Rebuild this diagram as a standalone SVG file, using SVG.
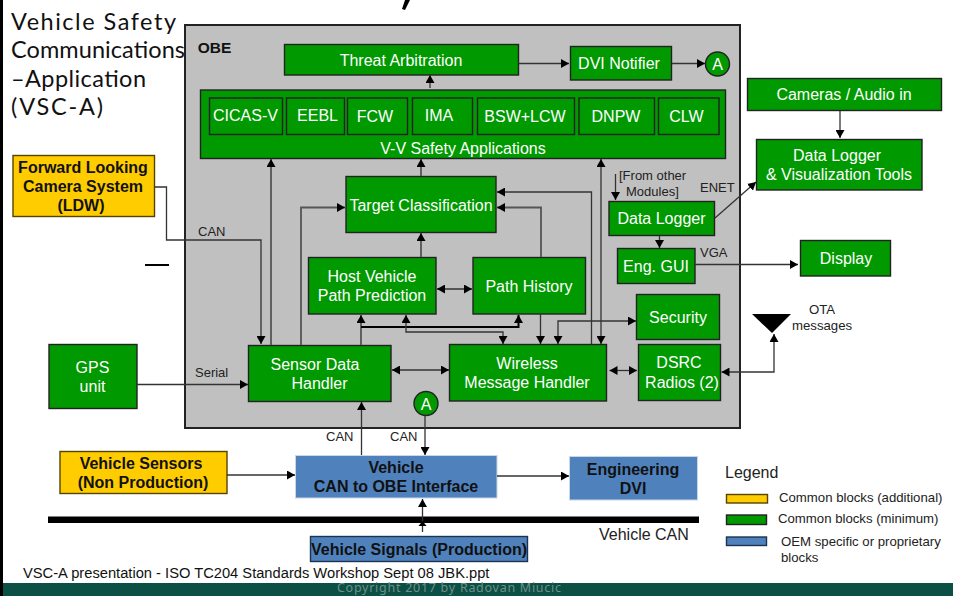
<svg xmlns="http://www.w3.org/2000/svg" width="953" height="596" viewBox="0 0 953 596">
<style>
text{font-family:"Liberation Sans",Arial,sans-serif;font-size:16px;fill:#fff;text-anchor:middle}
.g{fill:#009900;stroke:#222;stroke-width:1.4}
.y{fill:#ffcc00;stroke:#554400;stroke-width:1.4}
.b{fill:#4f81bd;stroke:#c9d6e6;stroke-width:1}
.bd{fill:#4f81bd;stroke:#1c3350;stroke-width:1.4}
.k{fill:#111;font-weight:bold}
.l{fill:#222;font-size:13px;text-anchor:start}
.m{fill:#222;font-size:13.2px;text-anchor:start}
.t{fill:#111;font-family:"Lato","Liberation Sans",sans-serif;font-size:23.5px;text-anchor:start}
.c{fill:none;stroke:#333;stroke-width:1.3;marker-end:url(#a)}
.d{marker-start:url(#a)}
.p{fill:none;stroke:#555;stroke-width:1.8}
</style>
<defs>
<marker id="a" markerUnits="userSpaceOnUse" markerWidth="9" markerHeight="9" refX="8" refY="4.5" orient="auto-start-reverse"><path d="M0 0L8 4.5L0 9Z" fill="#000"/></marker>
</defs>
<rect width="953" height="596" fill="#fff"/>
<rect x="0" y="0" width="3" height="596" fill="#000"/>
<path d="M410 0L405 10L402 9L405 0Z" fill="#000"/>
<rect x="3" y="583" width="950" height="13" fill="#0b4f45"/>
<text x="449" y="592" style="font-family:'Noto Sans',sans-serif;font-size:12.500px;fill:#6f8f88" textLength="224">Copyright 2017 by Radovan Miucic</text>
<g id="title">
<text class="t" x="11" y="30" textLength="165">Vehicle Safety</text>
<text class="t" x="11" y="58" textLength="174">Communications</text>
<text class="t" x="11" y="87" textLength="135">–Application</text>
<text class="t" x="11" y="115" textLength="92">(VSC-A)</text>
</g>
<g id="obe"><rect x="185" y="25" width="555" height="403" fill="#c0c0c0" stroke="#222" stroke-width="2"/><text class="k" x="214.500" y="53" style="font-size:15.500px">OBE</text></g>
<rect x="145" y="264" width="24" height="2" fill="#000"/>
<g id="threat"><rect class="g" x="284.500" y="44.500" width="234" height="30.500"/><text x="401" y="66">Threat Arbitration</text></g>
<g id="dvi"><rect class="g" x="570.500" y="46.500" width="101" height="33.500"/><text x="619" y="69">DVI Notifier</text></g>
<g id="a1"><circle class="g" cx="717.500" cy="64" r="12"/><text x="717.500" y="70">A</text></g>
<g id="vv"><rect class="g" x="200.500" y="90" width="525" height="68.500"/><text x="463" y="154">V-V Safety Applications</text></g>
<g id="cicas"><rect class="g" x="209.500" y="98" width="73" height="36.500"/><text x="245.500" y="121">CICAS-V</text></g>
<g id="eebl"><rect class="g" x="286.500" y="98" width="58" height="36.500"/><text x="317.500" y="121">EEBL</text></g>
<g id="fcw"><rect class="g" x="347.500" y="98" width="60" height="36.500"/><text x="375" y="122">FCW</text></g>
<g id="ima"><rect class="g" x="412.500" y="98" width="60" height="36.500"/><text x="439" y="121">IMA</text></g>
<g id="bsw"><rect class="g" x="477.500" y="98" width="97" height="36.500"/><text x="525" y="122">BSW+LCW</text></g>
<g id="dnpw"><rect class="g" x="579" y="98" width="75.500" height="36.500"/><text x="616" y="122">DNPW</text></g>
<g id="clw"><rect class="g" x="658.500" y="98" width="60.500" height="36.500"/><text x="686.500" y="122">CLW</text></g>
<g id="target"><rect class="g" x="346" y="176.500" width="150" height="56"/><text x="421" y="211">Target Classification</text></g>
<g id="host"><rect class="g" x="308.500" y="257.500" width="127.500" height="56.500"/><text x="372" y="282">Host Vehicle</text><text x="372" y="301">Path Prediction</text></g>
<g id="history"><rect class="g" x="473" y="257.500" width="112.500" height="56.500"/><text x="529" y="292">Path History</text></g>
<g id="sensor"><rect class="g" x="248.500" y="345.500" width="142.500" height="56"/><text x="315" y="370">Sensor Data</text><text x="319.500" y="389">Handler</text></g>
<g id="wireless"><rect class="g" x="449.500" y="344.500" width="157" height="56.500"/><text x="527" y="369">Wireless</text><text x="527" y="388">Message Handler</text></g>
<g id="security"><rect class="g" x="636.500" y="294.500" width="83" height="45"/><text x="678" y="323">Security</text></g>
<g id="dsrc"><rect class="g" x="638.500" y="344.500" width="82" height="56"/><text x="679" y="368">DSRC</text><text x="682" y="388">Radios (2)</text></g>
<g id="logger"><rect class="g" x="609" y="201.500" width="105.500" height="34"/><text x="661.500" y="224">Data Logger</text></g>
<g id="gui"><rect class="g" x="617.500" y="248.500" width="77.500" height="35"/><text x="656" y="272">Eng. GUI</text></g>
<g id="cameras"><rect class="g" x="747.500" y="78.500" width="194" height="32"/><text x="844" y="100">Cameras / Audio in</text></g>
<g id="tools"><rect class="g" x="756.500" y="139.500" width="165.500" height="50.500"/><text x="837" y="161">Data Logger</text><text x="839" y="180">&amp; Visualization Tools</text></g>
<g id="display"><rect class="g" x="800.500" y="240.500" width="90" height="35.500"/><text x="846" y="264">Display</text></g>
<g id="gps"><rect class="g" x="49" y="344.500" width="88" height="64"/><text x="92.500" y="373">GPS</text><text x="92.500" y="392">unit</text></g>
<g id="camera"><rect class="y" x="13" y="155.500" width="141.500" height="61"/><text class="k" x="83" y="173">Forward Looking</text><text class="k" x="83" y="192">Camera System</text><text class="k" x="81" y="211">(LDW)</text></g>
<g id="sensors"><rect class="y" x="60" y="451.500" width="167" height="42"/><text class="k" x="141" y="469">Vehicle Sensors</text><text class="k" x="143" y="488">(Non Production)</text></g>
<g id="can"><rect class="b" x="295.500" y="455.500" width="201.500" height="42.500"/><text class="k" x="396" y="473">Vehicle</text><text class="k" x="396" y="492">CAN to OBE Interface</text></g>
<g id="edvi"><rect class="b" x="569.500" y="456.500" width="128" height="43.500"/><text class="k" x="633" y="475">Engineering</text><text class="k" x="633" y="494">DVI</text></g>
<g id="signals"><rect class="bd" x="310.500" y="536.500" width="217" height="25"/><text class="k" x="419" y="555">Vehicle Signals (Production)</text></g>
<rect id="bus" x="48" y="516.500" width="651" height="6.500" fill="#000"/>
<g id="a2"><circle class="g" cx="426" cy="403.500" r="12"/><text x="426" y="409.500">A</text></g>
<g id="antenna"><path d="M752 314H791L772 333Z" fill="#000"/></g>
<g id="connectors">
<path class="c" d="M430 88V75"/>
<path class="c" d="M518.500 63.500H569"/>
<path class="c" d="M672 63.500H705"/>
<path class="c" d="M840 111V138"/>
<path class="c" d="M715 218L756 182"/>
<path class="c" d="M615.500 174V200"/>
<path class="c" d="M659.500 236V248"/>
<path class="c" d="M695 264.500H798"/>
<path class="c p" d="M271 345V159"/>
<path class="c p" d="M301 345V207.500H345"/>
<path class="c p" d="M421 257V233"/>
<path class="c p" d="M421 176V159"/>
<path class="c" d="M154.500 187H166.500V240H261V344"/>
<path class="c p" d="M541 257V207.500H497"/>
<path class="c" d="M591.500 344V192H497"/>
<path class="c d" d="M601 344V159"/>
<path class="c d p" d="M437 289H472"/>
<path class="c p" d="M361 345V315"/>
<path class="c" style="stroke:#000;stroke-width:2" d="M361 327H518.500V315"/>
<path class="c d" d="M406 315V332H503V344"/>
<path class="c" d="M540.500 314V344"/>
<path class="c d" d="M558 344V321H636"/>
<path class="c d" d="M392 370H449"/>
<path class="c d" d="M609.500 370.500H637"/>
<path class="c d" d="M721.500 372H774V334"/>
<path class="c" d="M137 384.500H248"/>
<path class="c" d="M361.500 455V402"/>
<path class="c" d="M425 415.500V455"/>
<path class="c" d="M227 475H295"/>
<path class="c" d="M497 476H569"/>
<path class="c" d="M422.500 532V499"/>
<path d="M418.500 526H426.500L422.500 521Z" fill="#000"/>
</g>
<g id="labels">
<text class="l" x="198" y="236">CAN</text>
<text class="l" x="195" y="377">Serial</text>
<text class="l" x="326" y="441">CAN</text>
<text class="l" x="390" y="441">CAN</text>
<text class="l" x="619" y="180">[From other</text>
<text class="l" x="626" y="196">Modules]</text>
<text class="l" x="700" y="192">ENET</text>
<text class="l" x="700" y="257">VGA</text>
<text class="m" x="809" y="314">OTA</text>
<text class="m" x="792" y="330">messages</text>
<text class="l" x="599" y="540" style="font-size:16px">Vehicle CAN</text>
<text class="l" x="23" y="578" style="font-size:14.700px;fill:#111">VSC-A presentation - ISO TC204 Standards Workshop Sept 08 JBK.ppt</text>
<text class="l" x="725" y="478" style="font-size:16px">Legend</text>
<text class="m" x="779" y="502">Common blocks (additional)</text>
<text class="m" x="778" y="523">Common blocks (minimum)</text>
<text class="m" x="781" y="546">OEM specific or proprietary</text>
<text class="m" x="781" y="562">blocks</text>
</g>
<g id="legend">
<rect class="y" x="726.500" y="494.500" width="41" height="8.500"/>
<rect class="g" x="726.500" y="515" width="40" height="9.500"/>
<rect class="bd" x="726.500" y="537" width="40" height="8.500"/>
</g>
</svg>
